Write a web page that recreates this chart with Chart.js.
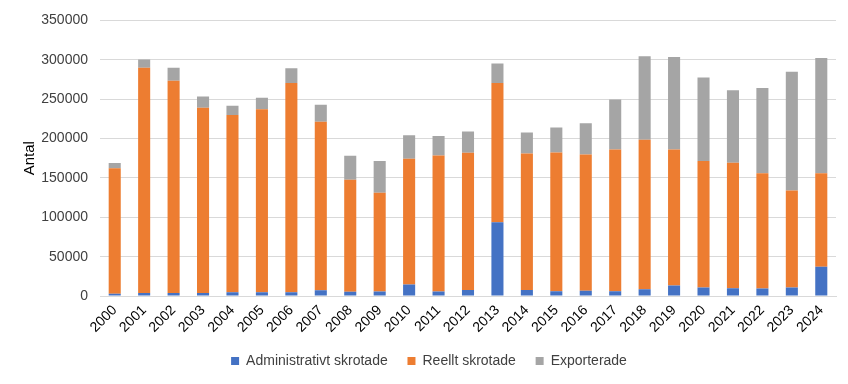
<!DOCTYPE html>
<html>
<head>
<meta charset="utf-8">
<script src="https://cdn.jsdelivr.net/npm/chart.js@4"></script>
<style>
  html, body { margin: 0; padding: 0; background: #fff; }
  #wrap { width: 848px; height: 384px; }
</style>
</head>
<body>
<div id="wrap"><canvas id="c"></canvas></div>
<script>
const FONT = '"Liberation Sans", Arial, sans-serif';
Chart.defaults.font.family = FONT;
Chart.defaults.font.size = 14;
Chart.defaults.color = '#404040';
Chart.defaults.animation = false;

const years = ['2000','2001','2002','2003','2004','2005','2006','2007','2008','2009','2010','2011','2012',
  '2013','2014','2015','2016','2017','2018','2019','2020','2021','2022','2023','2024'];
const administrativt = [3000,3800,3800,3800,5000,5000,5000,7500,5400,5900,14600,5900,7900,
  93700,7900,6300,6700,6300,8800,13400,10900,10000,9600,10900,37200];
const reellt = [159300,286000,269700,235400,225000,232100,265600,213700,142200,125400,159800,172700,174000,
  176900,173200,176000,173100,179700,189800,172600,160500,159300,146300,123300,118700];
const exporterade = [6700,10500,16300,14200,11700,14700,18800,21800,30600,40200,29700,24600,27200,
  24700,26700,31800,39700,63600,105800,117500,106200,92000,108300,150500,146500];

const bar = (label, data, color) => ({
  label, data, backgroundColor: color, borderWidth: 0,
  barPercentage: 0.41, categoryPercentage: 1,
});

new Chart(document.getElementById('c'), {
  type: 'bar',
  data: {
    labels: years,
    datasets: [
      bar('Administrativt skrotade', administrativt, '#4472C4'),
      bar('Reellt skrotade', reellt, '#ED7D31'),
      bar('Exporterade', exporterade, '#A5A5A5'),
    ]
  },
  options: {
    responsive: true, maintainAspectRatio: false,
    layout: { padding: { left: 22, right: 12, top: 10, bottom: 6 } },
    plugins: {
      legend: {
        position: 'bottom',
        labels: {
          boxWidth: 8, boxHeight: 8, padding: 12, color: '#404040',
          // a little extra room between legend entries
          generateLabels: (chart) => Chart.defaults.plugins.legend.labels.generateLabels(chart)
            .map((it, i, all) => ({ ...it, text: i < all.length - 1 ? it.text + '  ' : it.text })),
        },
      },
      tooltip: { enabled: false },
    },
    scales: {
      x: {
        stacked: true,
        grid: { display: false, drawTicks: false },
        border: { color: '#D9D9D9' },
        ticks: { minRotation: 45, maxRotation: 45, color: '#000', padding: 6 },
      },
      y: {
        stacked: true,
        min: 0, max: 350000,
        grid: { color: '#D9D9D9', drawTicks: false },
        border: { display: false },
        ticks: { stepSize: 50000, padding: 12, color: '#404040', callback: (v) => String(v) },
        title: {
          display: true, text: 'Antal', color: '#000',
          font: { size: 15, lineHeight: 1 }, padding: { top: 0, bottom: 0 },
        },
        afterFit: (scale) => { scale.width = 78; },
      },
    }
  }
});
</script>
</body>
</html>
